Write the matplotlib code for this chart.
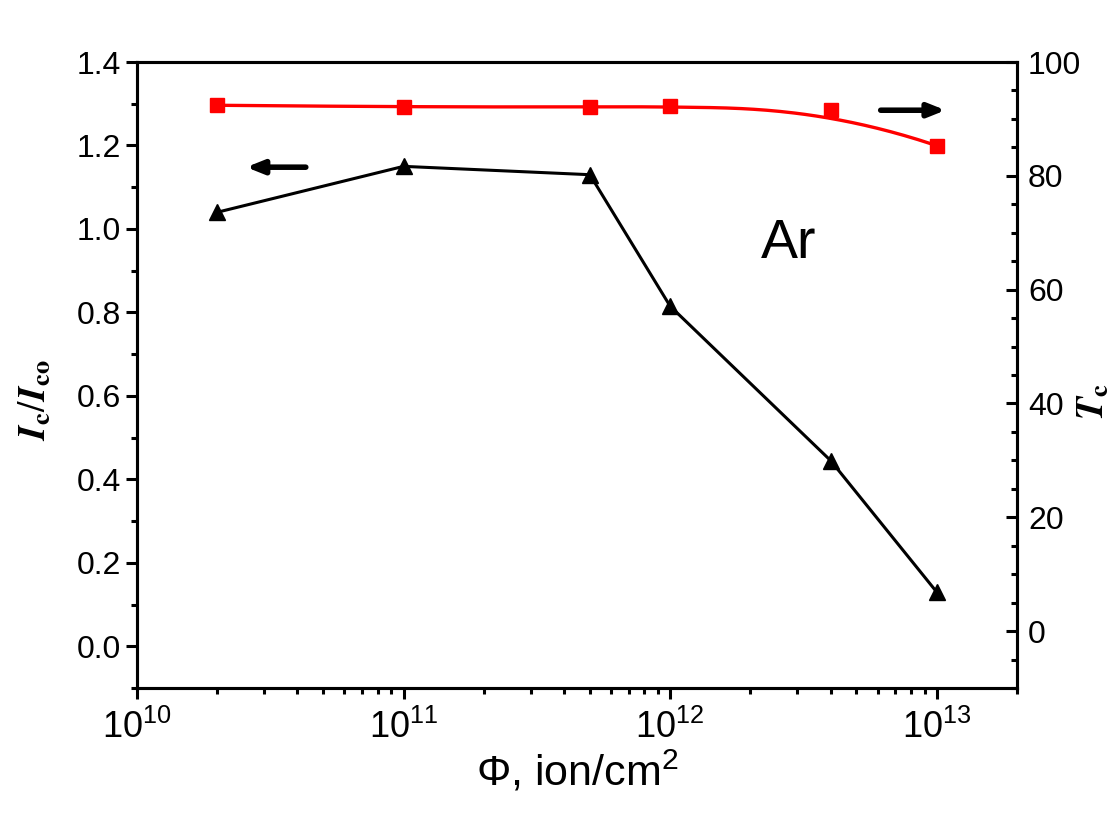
import numpy as np
import matplotlib
matplotlib.use("Agg")
import matplotlib.pyplot as plt
from matplotlib.ticker import MultipleLocator, LogLocator, NullFormatter

plt.rcParams['font.family'] = ['Liberation Sans', 'DejaVu Sans']
plt.rcParams['mathtext.fontset'] = 'custom'
plt.rcParams['mathtext.rm'] = 'Liberation Sans'

# data
fluence = [2e10, 1e11, 5e11, 1e12, 4e12, 1e13]
ic_ratio = [1.04, 1.15, 1.13, 0.815, 0.445, 0.13]
tc = [92.4, 92.1, 92.1, 92.2, 91.6, 85.3]


def bspline(px, py, n=200):
    # clamped cubic B-spline through control points (like Origin's B-spline line)
    p = np.column_stack([px, py])
    k = 3
    m = len(p)
    knots = np.concatenate([np.zeros(k), np.linspace(0, 1, m - k + 1), np.ones(k)])
    t = np.linspace(0, 1, n)
    t[-1] = 1 - 1e-9

    def basis(i, d, t):
        if d == 0:
            return ((knots[i] <= t) & (t < knots[i + 1])).astype(float)
        a = 0.0
        b = 0.0
        if knots[i + d] != knots[i]:
            a = (t - knots[i]) / (knots[i + d] - knots[i]) * basis(i, d - 1, t)
        if knots[i + d + 1] != knots[i + 1]:
            b = (knots[i + d + 1] - t) / (knots[i + d + 1] - knots[i + 1]) * basis(i + 1, d - 1, t)
        return a + b

    out = np.zeros((n, 2))
    for i in range(m):
        out += basis(i, k, t)[:, None] * p[i]
    return out[:, 0], out[:, 1]


fig = plt.figure(figsize=(11.2, 8.14), dpi=100)
ax = fig.add_axes([0.1223, 0.1548, 0.7857, 0.769])
ax2 = ax.twinx()

ax.plot(fluence, ic_ratio, color="black", lw=2.2, marker="^", ms=12, zorder=3)

bx, by = bspline(np.log10(fluence), tc)
ax2.plot(10 ** bx, by, color="red", lw=2.4)
ax2.plot(fluence, tc, ls="none", color="red", marker="s", ms=9.5)

ax.set_xscale("log")
ax.set_xlim(1e10, 2e13)
ax.set_ylim(-0.1, 1.4)
ax2.set_ylim(-10, 100)

ax.yaxis.set_minor_locator(MultipleLocator(0.1))
ax.set_yticks([0.0, 0.2, 0.4, 0.6, 0.8, 1.0, 1.2, 1.4])
ax.set_yticklabels(["0.0", "0.2", "0.4", "0.6", "0.8", "1.0", "1.2", "1.4"])
ax.xaxis.set_major_locator(LogLocator(base=10))
ax.xaxis.set_minor_locator(LogLocator(base=10, subs=np.arange(2, 10)))
ax.xaxis.set_minor_formatter(NullFormatter())
ax2.yaxis.set_minor_locator(MultipleLocator(5))
ax2.set_yticks([0, 20, 40, 60, 80, 100])

for a in (ax, ax2):
    for s in a.spines.values():
        s.set_linewidth(2.2)

ax.tick_params(axis="both", which="major", direction="out", length=8, width=2.2,
               labelsize=23, top=False)
ax.tick_params(axis="both", which="minor", direction="out", length=4, width=2.2, top=False)
ax.tick_params(axis="x", which="major", labelsize=26, pad=8)
ax2.tick_params(axis="y", which="major", direction="in", length=8, width=2.2, labelsize=23, pad=8)
ax2.tick_params(axis="y", which="minor", direction="in", length=4, width=2.2)

ax.set_xlabel(r"$\Phi$, ion/cm$^2$", fontsize=31, labelpad=2)
ax.set_ylabel(r"$\mathbfit{I}_{\mathbf{c}}/\mathbfit{I}_{\mathbf{co}}$", fontsize=27,
              math_fontfamily="stix", rotation=90, ha="center", va="center")
ax.yaxis.set_label_coords(-0.116, 0.46)
ax2.set_ylabel(r"$\mathbfit{T}_{\mathbf{c}}$", fontsize=27,
               rotation=90, ha="center", va="center", math_fontfamily="stix")
ax2.yaxis.set_label_coords(1.086, 0.457)

ax.text(0.74, 0.71, "Ar", transform=ax.transAxes, fontsize=40, ha="center", va="center")

ax.annotate("", xy=(0.121, 0.832), xytext=(0.195, 0.832), xycoords="axes fraction",
            arrowprops=dict(arrowstyle="-|>,head_length=1.0,head_width=0.4", lw=4, color="black"))
ax.annotate("", xy=(0.922, 0.923), xytext=(0.842, 0.923), xycoords="axes fraction",
            arrowprops=dict(arrowstyle="-|>,head_length=1.0,head_width=0.4", lw=4, color="black"))

fig.savefig("out.png", dpi=100)
